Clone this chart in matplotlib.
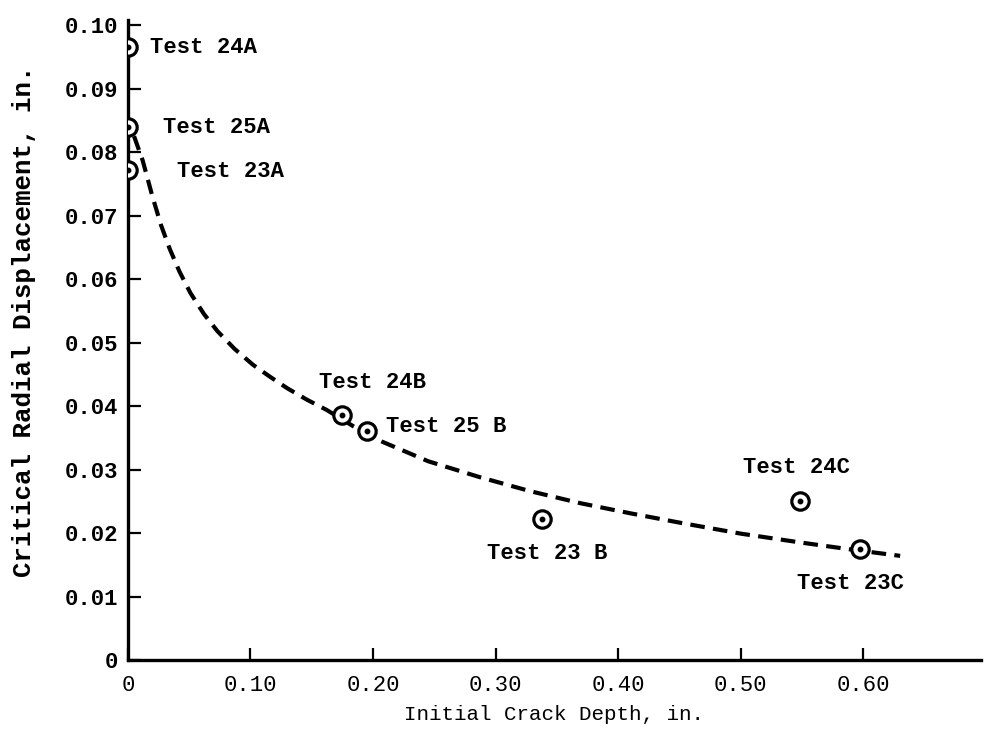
import matplotlib
matplotlib.use("Agg")
import matplotlib.pyplot as plt

# ---- data ----
test_names = ["Test 24A", "Test 25A", "Test 23A", "Test 24B", "Test 25 B",
              "Test 23 B", "Test 24C", "Test 23C"]
crack_depth = [0.0, 0.0, 0.0, 0.175, 0.195, 0.338, 0.548, 0.597]
radial_disp = [0.0965, 0.0839, 0.0772, 0.0386, 0.0361, 0.0222, 0.0250, 0.0175]

curve_x = [0.005, 0.012, 0.020, 0.027, 0.034, 0.042, 0.051, 0.062, 0.073,
           0.087, 0.102, 0.116, 0.130, 0.146, 0.162, 0.184, 0.206, 0.245,
           0.287, 0.328, 0.369, 0.410, 0.451, 0.500, 0.549, 0.590, 0.630]
curve_y = [0.0825, 0.0787, 0.0730, 0.0685, 0.0648, 0.0612, 0.0578, 0.0545,
           0.0518, 0.0490, 0.0465, 0.0446, 0.0428, 0.0410, 0.0394, 0.0368,
           0.0345, 0.0313, 0.0288, 0.0266, 0.0247, 0.0231, 0.0216, 0.0199,
           0.0185, 0.0174, 0.0164]

x_ticks = [0, 0.10, 0.20, 0.30, 0.40, 0.50, 0.60]
x_tick_labels = ["0", "0.10", "0.20", "0.30", "0.40", "0.50", "0.60"]
y_ticks = [0, 0.01, 0.02, 0.03, 0.04, 0.05, 0.06, 0.07, 0.08, 0.09, 0.10]
y_tick_labels = ["0", "0.01", "0.02", "0.03", "0.04", "0.05", "0.06",
                 "0.07", "0.08", "0.09", "0.10"]

# label offsets in points (left edge of text relative to marker)
label_offsets = [(16, 0), (25, 0), (35, -1.5), (-17, 23), (14, 3),
                 (-40, -25), (-41, 24), (-45, -25)]

FONT = "Liberation Mono"

fig = plt.figure(figsize=(9.84, 7.33), dpi=100)
ax = fig.add_axes([0.130, 0.0996, 0.867, 0.8731])

ax.plot(curve_x, curve_y, color="black", lw=3.0, ls=(0, (3.5, 2.0)),
        zorder=2)
ax.plot(crack_depth, radial_disp, ls="none", marker="o", ms=12.5,
        mfc="white", mec="black", mew=2.3, zorder=3)
ax.plot(crack_depth, radial_disp, ls="none", marker="o", ms=3.2,
        mfc="black", mec="black", zorder=4)

for name, x, y, off in zip(test_names, crack_depth, radial_disp, label_offsets):
    ax.annotate(name, (x, y), xytext=off, textcoords="offset points",
                ha="left", va="center", fontsize=16, fontweight="bold",
                family=FONT, annotation_clip=False)

ax.set_xlim(0, 0.696)
ax.set_ylim(0, 0.1008)

for s in ["top", "right"]:
    ax.spines[s].set_visible(False)
for s in ["left", "bottom"]:
    ax.spines[s].set_linewidth(2.4)

ax.set_xticks(x_ticks)
ax.set_xticklabels(x_tick_labels, family=FONT, fontsize=16)
ax.set_yticks(y_ticks)
ax.set_yticklabels(y_tick_labels, family=FONT, fontsize=16, fontweight="bold")
ax.tick_params(axis="x", direction="in", length=9, width=1.6, pad=11)
ax.tick_params(axis="y", direction="in", length=9, width=1.6, pad=7)

ax.set_xlabel("Initial Crack Depth, in.", family=FONT, fontsize=15,
              labelpad=6)
ax.set_ylabel("Critical Radial Displacement, in.", family=FONT, fontsize=18.5,
              fontweight="bold")
ax.yaxis.set_label_coords(-0.108, 0.53)

fig.savefig("out.png", dpi=100)
